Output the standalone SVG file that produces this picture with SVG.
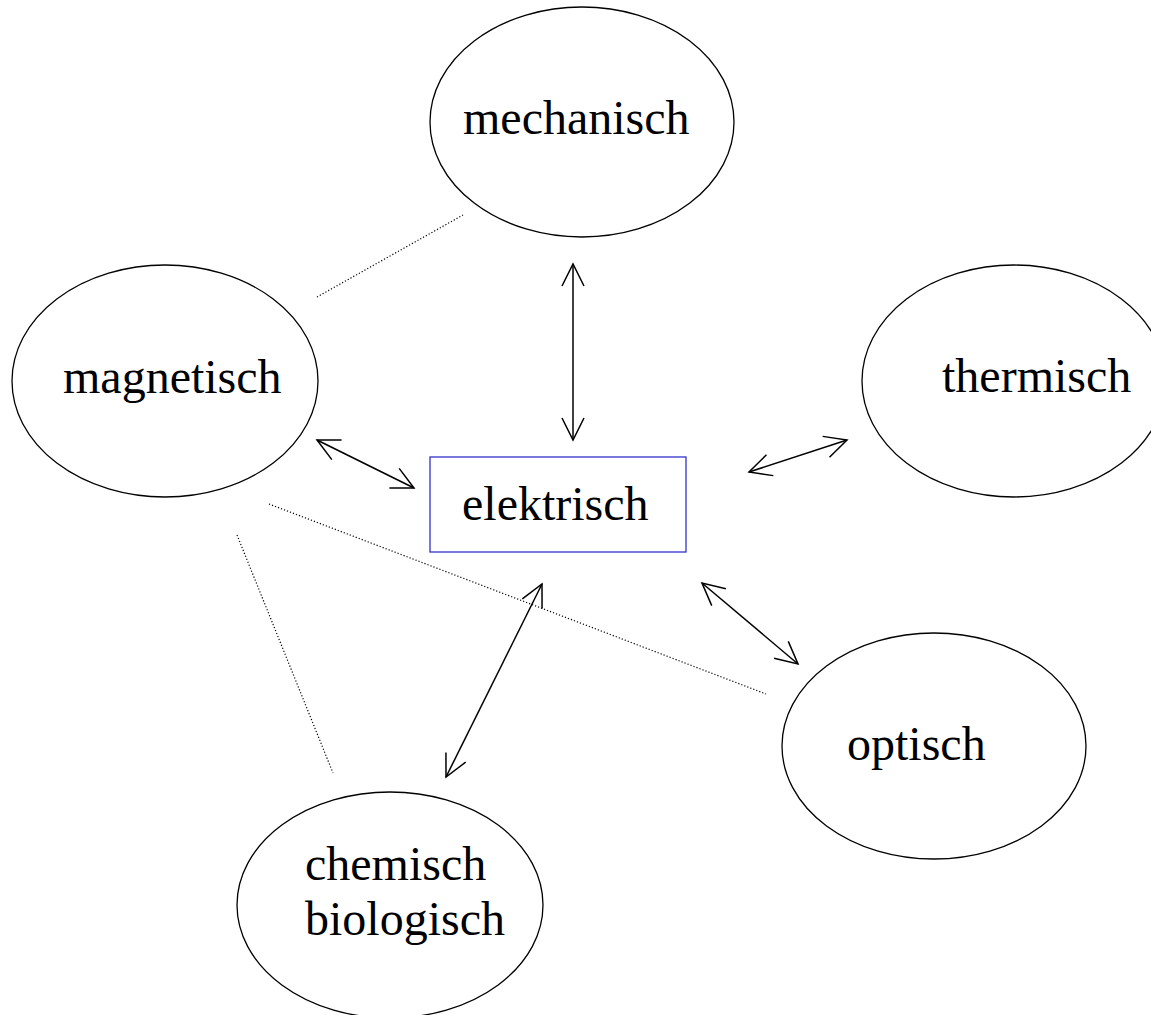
<svg xmlns="http://www.w3.org/2000/svg" width="1151" height="1015" viewBox="0 0 1151 1015">
<defs>
<style>
.node{fill:none;stroke:#000;stroke-width:1.3}
.box{fill:none;stroke:#3333cc;stroke-width:1.3}
.lbl{font-family:"Liberation Serif","Times New Roman",serif;font-size:48px;fill:#000}
.arr{stroke:#000;stroke-width:1.5;fill:none;marker-start:url(#ah);marker-end:url(#ah)}
.dot{stroke:#000;stroke-width:1.2;fill:none;stroke-dasharray:1.2 2}
</style>
<marker id="ah" markerUnits="userSpaceOnUse" markerWidth="30" markerHeight="30" refX="22" refY="11" orient="auto-start-reverse" overflow="visible">
<path d="M0,0 L22,11 L0,22" fill="none" stroke="#000" stroke-width="1.5"/>
</marker>
</defs>
<rect width="1151" height="1015" fill="#fff"/>
<g id="connectors">
<line class="arr" x1="573" y1="264" x2="573" y2="440"/>
<line class="arr" x1="317" y1="440" x2="414" y2="488"/>
<line class="arr" x1="749" y1="472" x2="847" y2="440"/>
<line class="arr" x1="702" y1="583" x2="798" y2="664"/>
<line class="arr" x1="542" y1="584" x2="446" y2="777"/>
<line class="dot" x1="317" y1="297" x2="463" y2="215"/>
<line class="dot" x1="269" y1="504" x2="766" y2="694"/>
<line class="dot" x1="237" y1="535" x2="333" y2="773"/>
</g>
<g id="mechanisch">
<ellipse class="node" cx="582" cy="122" rx="152" ry="115"/>
<text class="lbl" x="463" y="134">mechanisch</text>
</g>
<g id="magnetisch">
<ellipse class="node" cx="165" cy="381" rx="153" ry="116"/>
<text class="lbl" x="63" y="393">magnetisch</text>
</g>
<g id="thermisch">
<ellipse class="node" cx="1014" cy="381" rx="152" ry="116"/>
<text class="lbl" x="942" y="392">thermisch</text>
</g>
<g id="elektrisch">
<rect class="box" x="430" y="457" width="256" height="95"/>
<text class="lbl" x="462" y="520">elektrisch</text>
</g>
<g id="optisch">
<ellipse class="node" cx="934" cy="746" rx="152" ry="113"/>
<text class="lbl" x="847" y="760">optisch</text>
</g>
<g id="chemisch">
<ellipse class="node" cx="390" cy="905" rx="153" ry="113"/>
<text class="lbl" x="305" y="880">chemisch</text>
<text class="lbl" x="305" y="935">biologisch</text>
</g>
</svg>
